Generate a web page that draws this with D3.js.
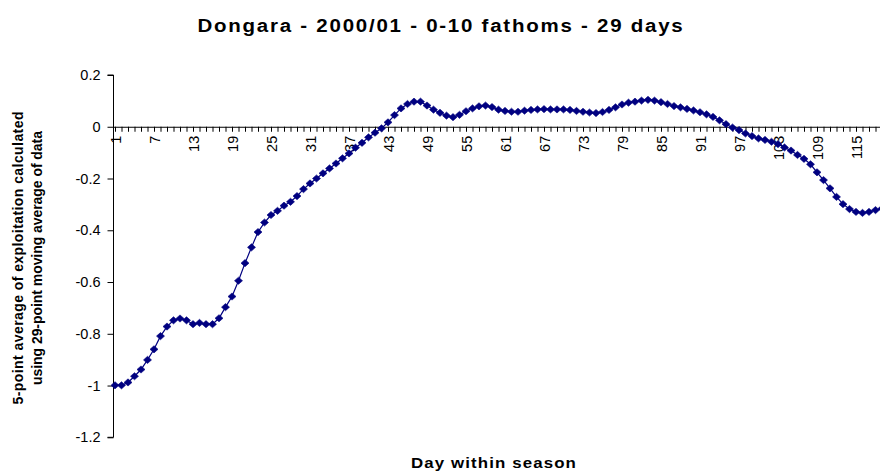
<!DOCTYPE html>
<html>
<head>
<meta charset="utf-8">
<script src="https://cdn.jsdelivr.net/npm/d3@7"></script>
<style>
  html, body { margin: 0; padding: 0; background: #fff; }
  svg { display: block; font-family: Arial, "Liberation Sans", sans-serif; }
</style>
</head>
<body>
<svg id="chart" width="880" height="472"></svg>
<script>
// ---- data ----
const titleText = "Dongara - 2000/01 - 0-10 fathoms - 29 days";
const xTitle = "Day within season";
const yTitleLines = ["5-point average of exploitation calculated", "using 29-point moving average of data"];

const days = d3.range(1, 120); // 1..119 (chart is cut off at the right edge)
const values = [
  -0.999, -0.999, -0.988, -0.964, -0.938, -0.901, -0.860, -0.809, -0.772, -0.748,
  -0.741, -0.748, -0.763, -0.758, -0.763, -0.763, -0.740, -0.697, -0.656, -0.595,
  -0.527, -0.466, -0.407, -0.370, -0.341, -0.325, -0.305, -0.290, -0.268, -0.241,
  -0.219, -0.200, -0.180, -0.161, -0.142, -0.122, -0.103, -0.081, -0.062, -0.041,
  -0.023, -0.006, 0.017, 0.045, 0.071, 0.088, 0.097, 0.097, 0.082, 0.066,
  0.054, 0.043, 0.037, 0.046, 0.060, 0.071, 0.079, 0.082, 0.076, 0.066,
  0.061, 0.058, 0.058, 0.062, 0.065, 0.067, 0.068, 0.067, 0.067, 0.067,
  0.065, 0.061, 0.058, 0.055, 0.053, 0.057, 0.065, 0.075, 0.086, 0.093,
  0.097, 0.101, 0.104, 0.101, 0.095, 0.088, 0.080, 0.075, 0.069, 0.063,
  0.056, 0.048, 0.038, 0.025, 0.010, -0.003, -0.013, -0.026, -0.036, -0.045,
  -0.051, -0.058, -0.067, -0.080, -0.092, -0.109, -0.124, -0.145, -0.176, -0.206,
  -0.238, -0.271, -0.299, -0.318, -0.329, -0.333, -0.329, -0.322, -0.316
];
const xTickLabelDays = d3.range(1, 116, 6); // 1, 7, 13, ..., 115
const yTickValues = [-1.2, -1, -0.8, -0.6, -0.4, -0.2, 0, 0.2];
const yTickLabels = ["-1.2", "-1", "-0.8", "-0.6", "-0.4", "-0.2", "0", "0.2"];

// ---- layout ----
const svg = d3.select("#chart");
const x = d3.scaleLinear().domain([1, 125]).range([115, 115 + 124 * 6.5]);
const y = d3.scaleLinear().domain([-1.2, 0.2]).range([437.3, 75]);

// Title
svg.append("text")
  .attr("x", 441).attr("y", 31.5)
  .attr("text-anchor", "middle")
  .attr("font-size", 17.5).attr("font-weight", "bold")
  .attr("textLength", 487).attr("lengthAdjust", "spacingAndGlyphs")
  .attr("letter-spacing", 1.5)
  .text(titleText);

// Y axis
const yAxis = d3.axisLeft(y)
  .tickValues(yTickValues)
  .tickFormat((d, i) => yTickLabels[i])
  .tickSize(6).tickPadding(7);
const gy = svg.append("g").attr("transform", "translate(113.5,0)").call(yAxis);
gy.select(".domain").attr("stroke", "#000").attr("d", `M-6,${y(0.2)}H0V${y(-1.2)}H-6`);
gy.selectAll(".tick line").attr("stroke", "#000");
gy.selectAll(".tick text").attr("font-size", 14.5).attr("fill", "#000")
  .attr("font-family", "Arial, 'Liberation Sans', sans-serif");

// X axis (crosses at 0)
const xAxis = d3.axisBottom(x)
  .tickValues(d3.range(1, 126))
  .tickFormat(d => xTickLabelDays.includes(d) ? String(d) : "")
  .tickSize(5).tickSizeOuter(0);
const gx = svg.append("g").attr("transform", `translate(0,${y(0)})`).call(xAxis);
gx.select(".domain").attr("stroke", "#000").attr("d", `M113.5,0.5H${x(125)}`);
gx.selectAll(".tick line").attr("stroke", "#000");
gx.selectAll(".tick text")
  .attr("font-size", 14.5).attr("fill", "#000")
  .attr("font-family", "Arial, 'Liberation Sans', sans-serif")
  .attr("transform", "rotate(-90)")
  .attr("text-anchor", "end")
  .attr("x", -9).attr("y", 0).attr("dy", "0.36em");

// Axis titles
svg.append("text")
  .attr("x", 494).attr("y", 468)
  .attr("text-anchor", "middle")
  .attr("font-size", 15).attr("font-weight", "bold")
  .attr("letter-spacing", 1)
  .attr("textLength", 166).attr("lengthAdjust", "spacingAndGlyphs")
  .text(xTitle);

const yLabelX = [22.5, 42];
const yLabelLen = [293, 254];
yTitleLines.forEach((t, i) => {
  svg.append("text")
    .attr("transform", `translate(${yLabelX[i]},258) rotate(-90)`)
    .attr("text-anchor", "middle")
    .attr("font-size", 14).attr("font-weight", "bold")
    .attr("textLength", yLabelLen[i]).attr("lengthAdjust", "spacing")
    .text(t);
});

// Series
const data = days.map((d, i) => ({ day: d, v: values[i] }));
const line = d3.line().x(d => x(d.day)).y(d => y(d.v));
svg.append("path").datum(data)
  .attr("fill", "none").attr("stroke", "#000080").attr("stroke-width", 1.2)
  .attr("d", line);

const diamond = {
  draw(ctx, size) {
    const w = 4, h = 3.6;
    ctx.moveTo(0, -h); ctx.lineTo(w, 0); ctx.lineTo(0, h); ctx.lineTo(-w, 0); ctx.closePath();
  }
};
svg.append("g").selectAll("path").data(data).join("path")
  .attr("transform", d => `translate(${x(d.day)},${y(d.v)})`)
  .attr("d", d3.symbol().type(diamond).size(30))
  .attr("fill", "#000080").attr("stroke", "#000080").attr("stroke-width", 0.6);
</script>
</body>
</html>
